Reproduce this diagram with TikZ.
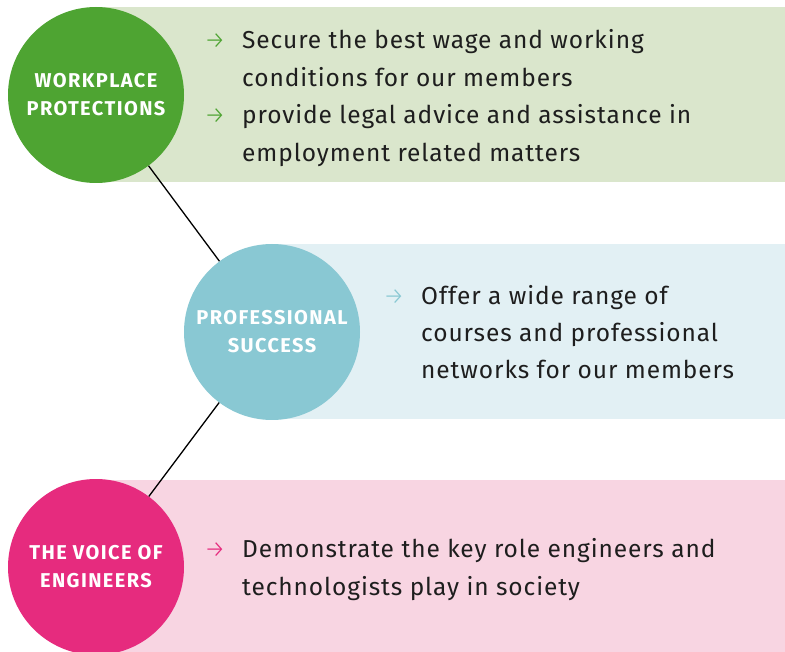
\documentclass[tikz,border=0pt]{standalone}
\usepackage{fontspec}
\setmainfont{Fira Sans}
\newfontfamily\bodyfont{Fira Sans}[LetterSpace=3.7]
\newfontfamily\labelfont{Fira Sans}[UprightFont=* Bold, LetterSpace=7]
\newfontfamily\arrowfont{Fira Sans}[UprightFont=* Light]
\usetikzlibrary{positioning}
\definecolor{gdark}{HTML}{4EA432}
\definecolor{glight}{HTML}{DAE6CC}
\definecolor{tdark}{HTML}{89C8D3}
\definecolor{tlight}{HTML}{E2F0F4}
\definecolor{pdark}{HTML}{E62B7E}
\definecolor{plight}{HTML}{F8D5E2}
\definecolor{txt}{HTML}{1E1E1E}
\tikzset{
  disc/.style={circle, minimum size=176pt, inner sep=0pt, text=white, align=center,
    font=\labelfont\fontsize{20}{28}\selectfont},
  line/.style={anchor=base west, inner sep=0pt, text=txt, font=\bodyfont\fontsize{24.5}{30}\selectfont},
  bul/.style={anchor=base west, inner sep=0pt, font=\arrowfont\fontsize{24}{30}\selectfont},
  link/.style={draw=black, line width=1.3pt}
}
\begin{document}
\begin{tikzpicture}[x=1pt,y=-1pt]
\useasboundingbox (0,0) rectangle (785,652);
% bands
\fill[glight] (96,7) rectangle (785,182);
\fill[tlight] (272,244) rectangle (785,419);
\fill[plight] (96,480) rectangle (785,652);
% circles
\node[disc, fill=gdark] (wp) at (96,95) {WORKPLACE\\PROTECTIONS};
\node[disc, fill=tdark] (ps) at (272,332) {PROFESSIONAL\\SUCCESS};
\node[disc, fill=pdark] (ve) at (96,567) {THE VOICE OF\\ENGINEERS};
\draw[link] (wp) -- (ps);
\draw[link] (ps) -- (ve);
% band 1 text
\node[bul, text=gdark] (a1) at (204,49) {→};
\node[line] (t1) at (242,49) {Secure the best wage and working};
\node[line] (t2) at (242,87) {conditions for our members};
\node[bul, text=gdark] (a2) at (204,124) {→};
\node[line] (t3) at (242,124) {provide legal advice and assistance in};
\node[line] (t4) at (242,162) {employment related matters};
% band 2 text
\node[bul, text=tdark] (a3) at (383,305) {→};
\node[line] (t5) at (421,305) {Offer a wide range of};
\node[line] (t6) at (421,342) {courses and professional};
\node[line] (t7) at (421,379) {networks for our members};
% band 3 text
\node[bul, text=pdark] (a4) at (204,557) {→};
\node[line] (t8) at (242,557) {Demonstrate the key role engineers and};
\node[line] (t9) at (242,595) {technologists play in society};
\end{tikzpicture}
\end{document}
